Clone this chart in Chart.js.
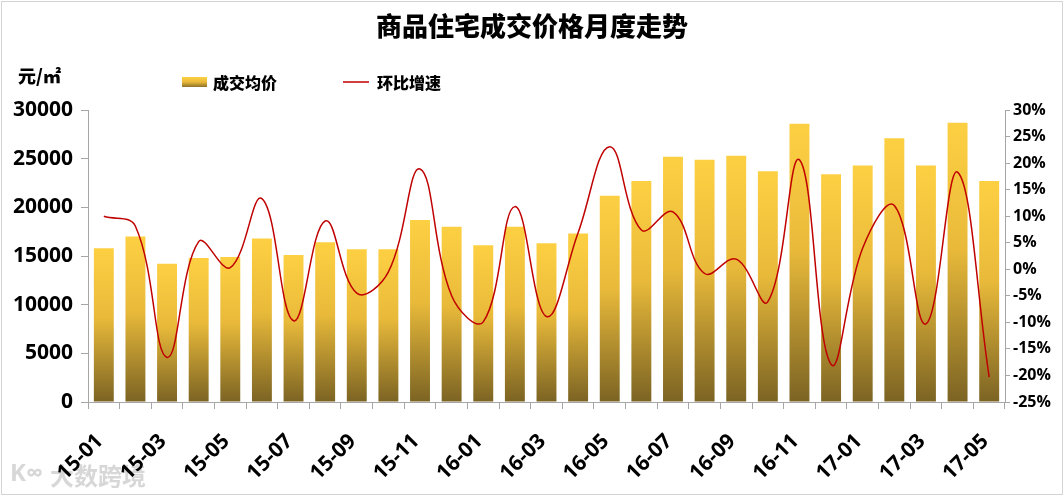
<!DOCTYPE html>
<html>
<head>
<meta charset="utf-8">
<script src="https://cdn.jsdelivr.net/npm/chart.js@4.4.1/dist/chart.umd.min.js"></script>
<style>
  html, body { margin: 0; padding: 0; background: #fff; }
</style>
</head>
<body>
<canvas id="chart" width="1064" height="496"></canvas>
<script>
// data
const months = ['15-01','15-02','15-03','15-04','15-05','15-06','15-07','15-08','15-09','15-10','15-11','15-12',
                '16-01','16-02','16-03','16-04','16-05','16-06','16-07','16-08','16-09','16-10','16-11','16-12',
                '17-01','17-02','17-03','17-04','17-05'];
const avgPrice = [15800, 17000, 14200, 14800, 14900, 16800, 15100, 16400, 15700, 15700, 18700, 18000,
                  16100, 18000, 16300, 17300, 21200, 22700, 25200, 24900, 25300, 23700, 28600, 23400,
                  24300, 27100, 24300, 28700, 22700];
const momGrowth = [10.0, 8.1, -16.6, 5.2, 0.3, 13.3, -9.7, 9.1, -4.5, -0.5, 18.9, -5.0,
                   -9.9, 11.8, -8.9, 6.9, 23.1, 7.4, 10.8, -0.8, 1.9, -6.1, 20.6, -17.9,
                   4.0, 12.0, -10.3, 18.3, -20.3];
const priceRange = [0, 30000, 5000];
const growthRange = [-25, 30, 5];

const titleText = '商品住宅成交价格月度走势';
const seriesNames = ['成交均价', '环比增速'];
const unitText = '元/㎡';

const FONT = '"Open Sans", "Noto Sans CJK SC", sans-serif';
const CJK = '"Noto Sans CJK SC", sans-serif';

function barGradient(ctx, top, bottom) {
    const g = ctx.createLinearGradient(0, top, 0, bottom);
    g.addColorStop(0, '#fdd043');
    g.addColorStop(0.45, '#e9ba3a');
    g.addColorStop(1, '#7b6323');
    return g;
}

const decorations = {
    id: 'decorations',
    beforeDraw(chart) {
        const c = chart.ctx;
        c.save();
        c.strokeStyle = '#d4d4d4';
        c.lineWidth = 1;
        c.strokeRect(1.5, 1.5, chart.width - 3, chart.height - 3);
        // faint watermark, sits under the axis labels
        c.fillStyle = 'rgba(205,205,205,0.8)';
        c.textBaseline = 'middle';
        c.font = 'bold 24px ' + CJK;
        c.fillText('大数跨境', 50, 476);
        c.font = 'bold 24px ' + FONT;
        c.fillText('K∞', 10, 474);
        c.restore();
    },
    afterDraw(chart) {
        const c = chart.ctx;
        c.save();
        c.fillStyle = '#000';
        c.textBaseline = 'middle';

        c.font = '900 26px ' + CJK;
        c.textAlign = 'center';
        c.fillText(titleText, 532, 26);

        c.textAlign = 'left';
        c.font = '900 18px ' + CJK;
        c.fillText(unitText, 18, 76);

        // legend
        c.fillStyle = barGradient(c, 77, 88);
        c.fillRect(182, 77, 25, 10);
        c.fillStyle = '#000';
        c.font = '900 16px ' + CJK;
        c.fillText(seriesNames[0], 213, 83);
        c.strokeStyle = '#c00000';
        c.lineWidth = 1.5;
        c.beginPath();
        c.moveTo(343, 82);
        c.lineTo(369, 82);
        c.stroke();
        c.fillText(seriesNames[1], 377, 83);
        c.restore();
    }
};

new Chart(document.getElementById('chart'), {
    type: 'bar',
    data: {
        labels: months,
        datasets: [{
            type: 'line',
            label: seriesNames[1],
            data: momGrowth,
            yAxisID: 'y1',
            borderColor: '#c00000',
            borderWidth: 1.5,
            pointRadius: 0,
            tension: 0.4,
            fill: false,
            order: 0
        }, {
            type: 'bar',
            label: seriesNames[0],
            data: avgPrice,
            yAxisID: 'y',
            categoryPercentage: 1,
            barPercentage: 0.63,
            order: 1,
            backgroundColor: (ctx) => {
                const chart = ctx.chart;
                if (!chart.chartArea) return '#e9ba3a';
                const y = chart.scales.y;
                return barGradient(chart.ctx, y.getPixelForValue(ctx.raw), y.getPixelForValue(0));
            }
        }]
    },
    options: {
        responsive: false,
        animation: false,
        layout: { padding: { top: 110, bottom: 4, left: 0, right: 0 } },
        plugins: {
            legend: { display: false },
            title: { display: false },
            tooltip: { enabled: false }
        },
        scales: {
            x: {
                grid: { offset: true, drawOnChartArea: false, drawTicks: true, tickLength: 7, color: '#a6a6a6' },
                border: { color: '#a6a6a6' },
                afterFit: (s) => { s.height = 90; },
                ticks: {
                    autoSkip: false,
                    minRotation: 45,
                    maxRotation: 45,
                    padding: 20,
                    labelOffset: -4,
                    color: '#000',
                    font: { family: FONT, size: 21, weight: 'bold' },
                    callback: (v, i) => i % 2 === 0 ? months[i] : ''
                }
            },
            y: {
                position: 'left',
                min: priceRange[0],
                max: priceRange[1],
                afterFit: (s) => { s.width = 88; },
                grid: { drawOnChartArea: false, tickLength: 7, color: '#a6a6a6' },
                border: { color: '#a6a6a6' },
                ticks: {
                    stepSize: priceRange[2],
                    padding: 8,
                    color: '#000',
                    font: { family: FONT, size: 21, weight: 'bold' },
                    callback: (v) => String(v)
                }
            },
            y1: {
                position: 'right',
                min: growthRange[0],
                max: growthRange[1],
                afterFit: (s) => { s.width = 59; },
                grid: { drawOnChartArea: false, tickLength: 5, color: '#a6a6a6' },
                border: { color: '#a6a6a6' },
                ticks: {
                    stepSize: growthRange[2],
                    padding: 3,
                    color: '#000',
                    font: { family: FONT, size: 16, weight: 'bold' },
                    callback: (v) => v + '%'
                }
            }
        }
    },
    plugins: [decorations]
});
</script>
</body>
</html>
